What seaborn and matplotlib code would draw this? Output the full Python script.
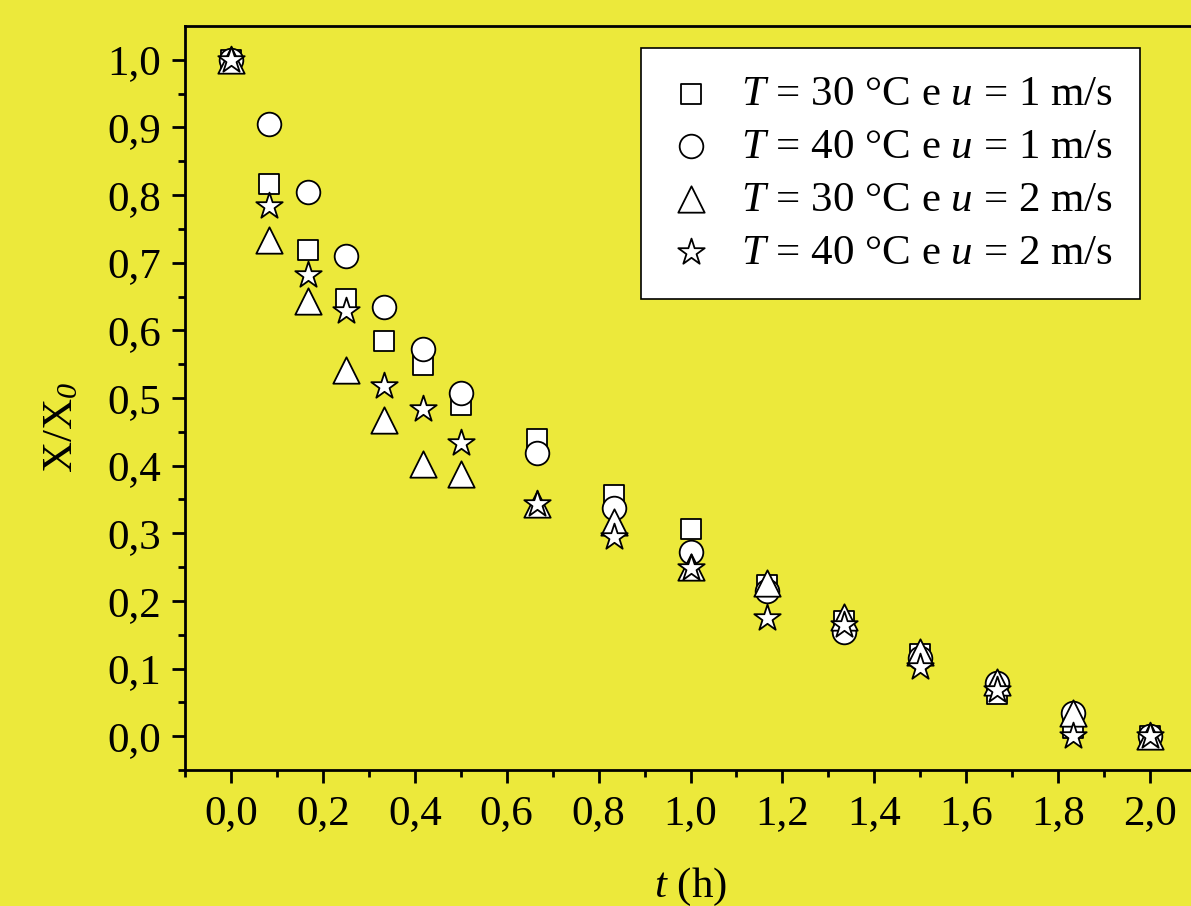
import numpy as np
import pandas as pd
import seaborn as sns
import matplotlib.pyplot as plt

sns.set_theme(style='ticks')
plt.rcParams['font.family'] = ['Liberation Serif', 'DejaVu Serif']
plt.rcParams['mathtext.fontset'] = 'custom'
plt.rcParams['mathtext.rm'] = 'Liberation Serif'
plt.rcParams['mathtext.it'] = 'Liberation Serif:italic'
plt.rcParams['mathtext.sf'] = 'Liberation Serif:italic'
plt.rcParams['text.color'] = 'black'
plt.rcParams['axes.labelcolor'] = 'black'

fundo = '#ECE93B'

# tempo (h)
t = [0.0, 0.083, 0.167, 0.25, 0.333, 0.417, 0.5, 0.667, 0.833, 1.0,
     1.167, 1.333, 1.5, 1.667, 1.833, 2.0]

# X/X0 para cada condição
t30_u1 = [1.0, 0.817, 0.719, 0.647, 0.585, 0.549, 0.489, 0.440, 0.356, 0.306,
          0.223, 0.171, 0.122, 0.062, 0.012, 0.0]
t40_u1 = [1.0, 0.905, 0.805, 0.710, 0.634, 0.573, 0.508, 0.419, 0.337, 0.273,
          0.214, 0.154, 0.115, 0.078, 0.035, 0.0]
t30_u2 = [1.0, 0.733, 0.644, 0.542, 0.468, 0.402, 0.387, 0.344, 0.316, 0.250,
          0.227, 0.176, 0.124, 0.080, 0.035, 0.0]
t40_u2 = [1.0, 0.784, 0.682, 0.629, 0.518, 0.483, 0.433, 0.344, 0.295, 0.248,
          0.174, 0.164, 0.103, 0.068, 0.0, 0.0]

rotulos = ['$T$ = 30 °C e $u$ = 1 m/s', '$T$ = 40 °C e $u$ = 1 m/s',
           '$T$ = 30 °C e $u$ = 2 m/s', '$T$ = 40 °C e $u$ = 2 m/s']

xticks = [0.0, 0.2, 0.4, 0.6, 0.8, 1.0, 1.2, 1.4, 1.6, 1.8, 2.0]
xtick_labels = ['0,0', '0,2', '0,4', '0,6', '0,8', '1,0', '1,2', '1,4', '1,6', '1,8', '2,0']
yticks = [0.0, 0.1, 0.2, 0.3, 0.4, 0.5, 0.6, 0.7, 0.8, 0.9, 1.0]
ytick_labels = ['0,0', '0,1', '0,2', '0,3', '0,4', '0,5', '0,6', '0,7', '0,8', '0,9', '1,0']

series = [t30_u1, t40_u1, t30_u2, t40_u2]
marcadores = ['s', 'o', '^', '*']
tamanhos = [225, 290, 360, 400]

fig = plt.figure(figsize=(11.91, 9.06), dpi=100, facecolor=fundo)
ax = fig.add_axes([185 / 1191, 1 - 770 / 906, 1011 / 1191, 744 / 906])
ax.set_facecolor(fundo)

for y, m, s, lab in zip(series, marcadores, tamanhos, rotulos):
    df = pd.DataFrame({'t': t, 'X': y})
    sns.scatterplot(data=df, x='t', y='X', marker=m, s=s, color='white',
                    edgecolor='black', linewidth=1.3, label=lab, ax=ax, zorder=3)

ax.set_xlim(-0.1, 2.1)
ax.set_ylim(-0.05, 1.05)
ax.set_xticks(xticks)
ax.set_xticklabels(xtick_labels)
ax.set_yticks(yticks)
ax.set_yticklabels(ytick_labels)
ax.set_xticks(np.arange(-0.1, 2.15, 0.2), minor=True)
ax.set_yticks(np.arange(-0.05, 1.0, 0.1), minor=True)
ax.tick_params(which='major', direction='out', length=9.5, width=2, labelsize=31,
               pad=8, colors='black')
ax.tick_params(which='minor', direction='out', length=5, width=2, colors='black')
for sp in ax.spines.values():
    sp.set_linewidth(2)
    sp.set_color('black')

ax.set_xlabel('$t$ (h)', fontsize=31, labelpad=24)
ax.set_ylabel('X/X$_{\\mathsf{0}}$', fontsize=31)
ax.yaxis.set_label_coords(-0.103, 0.46)

leg = ax.legend(loc='upper right', fontsize=31, frameon=True, fancybox=False,
                edgecolor='black', facecolor='white', framealpha=1, borderaxespad=0,
                handletextpad=0.62, labelspacing=0.32, borderpad=0.62, handlelength=1.1)
leg.set_bbox_to_anchor((1140 / 1191, 1 - 48 / 906), transform=fig.transFigure)
leg.get_frame().set_linewidth(1.2)

fig.savefig('out.png', dpi=100, facecolor=fundo)
